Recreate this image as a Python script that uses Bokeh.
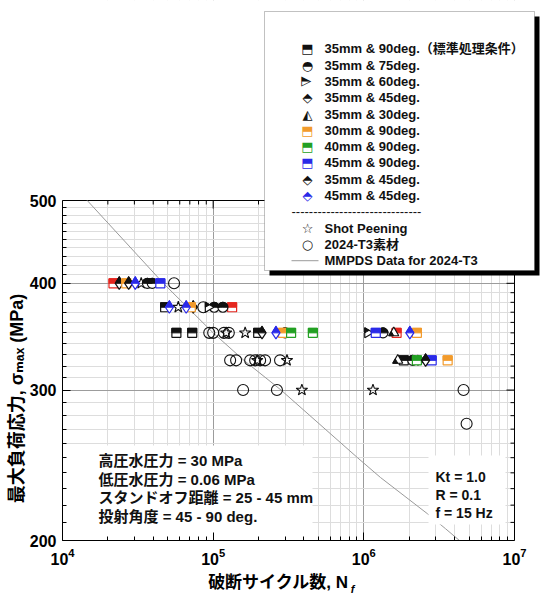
import math
from bokeh.plotting import figure
from bokeh.models import (FixedTicker, LogAxis, NumeralTickFormatter, Label,
                          BoxAnnotation, Range1d, CustomJSTickFormatter)
from bokeh.embed import file_html
from bokeh.resources import INLINE

# ---------------- data ----------------
x_major = [1e4, 1e5, 1e6, 1e7]
x_minor = [m * 10 ** e for e in (4, 5, 6) for m in range(2, 10)]
y_major = [200, 300, 400, 500]
y_minor = [v for v in range(210, 500, 10) if v % 100 != 0]

# 35mm & 90deg (standard condition) - black
std_N = [48.0e3, 57.0e3, 72.6e3, 199e3, 1.84e6]
std_S = [375, 350, 350, 350, 325]
# standard condition points drawn in red
red_N = [21.8e3, 133.6e3, 1.65e6]
red_S = [400, 375, 350]
# 35mm & 75deg
d75_N = [36.6e3, 39.4e3, 101.6e3, 116e3, 300e3, 1.34e6, 2.11e6]
d75_S = [400, 400, 375, 375, 350, 350, 325]
# 35mm & 60deg
d60_N = [92.7e3, 1.06e6, 2.38e6]
d60_S = [375, 350, 325]
# 35mm & 45deg
d45a_N = [23.8e3, 73.7e3, 211e3]
d45a_S = [400, 375, 350]
# 35mm & 30deg
d30_N = [1.58e6, 1.68e6]
d30_S = [350, 325]
# 30mm & 90deg (orange)
o_N = [26.5e3, 71e3, 291e3, 2.25e6, 3.6e6]
o_S = [400, 375, 350, 350, 325]
# 40mm & 90deg (green)
g_N = [329e3, 459e3, 2.25e6]
g_S = [350, 350, 325]
# 45mm & 90deg (blue)
b_N = [44.6e3, 1.2e6, 2.82e6]
b_S = [400, 350, 325]
# 35mm & 45deg (second set)
d45b_N = [27.5e3, 2.57e6]
d45b_S = [400, 325]
# 45mm & 45deg (blue diamonds)
bd_N = [30.4e3, 51.2e3, 66.2e3, 261e3, 2.02e6]
bd_S = [400, 375, 375, 350, 350]
# Shot peening
sp_N = [33.3e3, 58.7e3, 122e3, 163e3, 196e3, 309e3, 388e3, 1.15e6]
sp_S = [400, 375, 350, 350, 325, 325, 300, 300]
# 2024-T3 base material
bm_N = [55e3, 86e3, 94.2e3, 100e3, 118e3, 127e3, 129.6e3, 142e3, 176e3, 190e3,
        205e3, 221e3, 278e3, 158e3, 265e3, 4.59e6, 4.81e6]
bm_S = [400, 375, 350, 350, 350, 350, 325, 325, 325, 325,
        325, 325, 325, 300, 300, 300, 274]
# MMPDS curve for 2024-T3
mm_N = [14.6e3, 46.7e3, 100e3, 160e3, 282e3, 908e3, 1.29e6, 2.64e6, 3.48e6, 4.31e6]
mm_S = [500, 400, 350, 325, 300, 250, 237, 215, 206.5, 200]

legend_labels = ["35mm & 90deg.（標準処理条件）", "35mm & 75deg.", "35mm & 60deg.",
                 "35mm & 45deg.", "35mm & 30deg.", "30mm & 90deg.", "40mm & 90deg.",
                 "45mm & 90deg.", "35mm & 45deg.", "45mm & 45deg.",
                 "Shot Peening", "2024-T3素材", "MMPDS Data for 2024-T3"]
cond_left = ["高圧水圧力 = 30 MPa", "低圧水圧力 = 0.06 MPa",
             "スタンドオフ距離 = 25 - 45 mm", "投射角度 = 45 - 90 deg."]
cond_right = ["Kt = 1.0", "R = 0.1", "f = 15 Hz"]
y_title = "最大負荷応力, σₘₐₓ (MPa)"
x_title = "破断サイクル数, N"
x_title_sub = "f"

# ---------------- style / layout ----------------
BLACK = "#111111"
RED = "#E5261F"
ORANGE = "#F29B2C"
GREEN = "#23A023"
BLUE = "#2A2AE8"
GRAY = "#9A9A9A"
FONT = "Liberation Sans, Noto Sans CJK JP, DejaVu Sans"

W, H = 541, 604
FL, FB = 62, 540            # frame left / bottom (canvas px)
AX_R, AX_T = 514, 200        # where the axes box ends on the right / top
X_DEC = (AX_R - FL) / math.log10(x_major[-1] / x_major[0])
Y_DEC = (FB - AX_T) / math.log10(y_major[-1] / y_major[0])

def n_at(X):
    return x_major[0] * 10 ** ((X - FL) / X_DEC)

def s_at(Y):
    return y_major[0] * 10 ** ((FB - Y) / Y_DEC)

p = figure(width=W, height=H, x_axis_type="log", y_axis_type="log",
           x_range=Range1d(x_major[0], n_at(W)), y_range=Range1d(y_major[0], s_at(0)),
           output_backend="svg", toolbar_location=None, title=None,
           min_border_left=FL, min_border_right=0,
           min_border_top=0, min_border_bottom=H - FB)
p.outline_line_color = None
p.background_fill_color = "white"
p.border_fill_color = "white"

xt = FixedTicker(ticks=x_major, minor_ticks=x_minor)
yt = FixedTicker(ticks=y_major, minor_ticks=y_minor)

def style_axis(ax):
    ax.axis_line_color = "black"
    ax.axis_line_width = 1
    ax.major_tick_in = 8
    ax.major_tick_out = 0
    ax.minor_tick_in = 4
    ax.minor_tick_out = 0
    ax.major_tick_line_color = "black"
    ax.minor_tick_line_color = "black"
    ax.major_label_text_font = "Liberation Sans"
    ax.major_label_text_font_style = "bold"
    ax.major_label_text_font_size = "16px"
    ax.major_label_text_color = "black"
    ax.major_label_standoff = 7

xa = p.below[0]
ya = p.left[0]
xa.ticker = xt
ya.ticker = yt
p.xgrid.ticker = xt
p.ygrid.ticker = yt
ya.formatter = NumeralTickFormatter(format="0")
style_axis(xa)
style_axis(ya)
ya.major_label_standoff = 6
xa.bounds = (x_major[0], x_major[-1])
ya.bounds = (y_major[0], y_major[-1])

def title_axis(side, tick, text, size, style, standoff, vertical=False):
    ax = LogAxis(ticker=FixedTicker(ticks=[tick]),
                 formatter=CustomJSTickFormatter(code="return label", args=dict(label=text)))
    ax.axis_line_color = None
    ax.major_tick_in = 0
    ax.major_tick_out = 0
    ax.minor_tick_in = 0
    ax.minor_tick_out = 0
    ax.major_label_text_font = FONT
    ax.major_label_text_font_size = size
    ax.major_label_text_font_style = style
    ax.major_label_text_color = "black"
    ax.major_label_standoff = standoff
    if vertical:
        ax.major_label_orientation = "vertical"
    p.add_layout(ax, side)

title_axis("below", n_at(278), x_title, "17px", "bold", 5)
title_axis("below", n_at(352), x_title_sub, "11px", "bold italic", -12)
title_axis("left", s_at(398), y_title, "18px", "bold", 0, vertical=True)

for g in (p.xgrid, p.ygrid):
    g.grid_line_color = "#9c9c9c"
    g.grid_line_width = 1
    g.minor_grid_line_color = "#dddddd"
    g.minor_grid_line_width = 1

# keep grid inside the axes box
p.add_layout(BoxAnnotation(bottom=y_major[-1], fill_color="white", fill_alpha=1,
                           line_color=None, level="underlay"))
p.add_layout(BoxAnnotation(left=x_major[-1], fill_color="white", fill_alpha=1,
                           line_color=None, level="underlay"))

def sy_(vals, px):
    return [v * 10 ** (px / Y_DEC) for v in vals]

def sx_(vals, px):
    return [v * 10 ** (px / X_DEC) for v in vals]

def lx(X):
    return X - FL

def ly(Y):
    return FB - Y

def sbox(l, r, t, b, **kw):
    return BoxAnnotation(left=lx(l), right=lx(r), top=ly(t), bottom=ly(b),
                         left_units="screen", right_units="screen",
                         top_units="screen", bottom_units="screen", fill_alpha=1, **kw)

# white box behind lower-left conditions (hides grid only)
p.add_layout(sbox(FL, 312, 445, FB, fill_color="white", line_color=None, level="underlay"))

# top and right frame lines with inward ticks
x0, x1 = x_major[0], x_major[-1]
y0, y1 = y_major[0], y_major[-1]
p.segment([x1, x0], [y0, y1], [x1, x1], [y1, y1], line_color="black", line_width=1)
ry = y_major[1:-1] + y_minor
rl = [8] * (len(y_major) - 2) + [4] * len(y_minor)
p.segment([x1] * len(ry), ry, [x1 * 10 ** (-l / X_DEC) for l in rl], ry,
          line_color="black", line_width=1)
tx = x_major[1:-1] + x_minor
tl = [8] * (len(x_major) - 2) + [4] * len(x_minor)
p.segment(tx, [y1] * len(tx), tx, [y1 * 10 ** (-l / Y_DEC) for l in tl],
          line_color="black", line_width=1)

# MMPDS curve
p.line(mm_N, mm_S, line_color=GRAY, line_width=1)

# ---------------- markers ----------------
def half_square(N, S, c, s=9):
    p.scatter(N, S, marker="square", size=s, fill_color="white", line_color=c, line_width=1.2)
    p.rect(N, sy_(S, s / 4), width=s, height=s / 2, width_units="screen",
           height_units="screen", fill_color=c, line_color=c, line_width=1)

def half_circle(N, S, c, s=10):
    p.scatter(N, S, marker="circle", size=s, fill_color="white", line_color=c, line_width=1.2)
    p.wedge(N, S, radius=s / 2, start_angle=0, end_angle=math.pi, radius_units="screen",
            fill_color=c, line_color=c, line_width=1)

def half_diamond(N, S, c, s=12):
    p.scatter(N, S, marker="diamond", size=s, fill_color="white", line_color=c, line_width=1.2)
    w = s / 1.5
    p.scatter(N, sy_(S, w * math.sqrt(3) / 6), marker="triangle", size=w,
              fill_color=c, line_color=c, line_width=1)

def half_rtri(N, S, c, s=10):
    p.scatter(N, S, marker="triangle", angle=-math.pi / 2, size=s, fill_color="white",
              line_color=c, line_width=1.2)
    r = s / 2
    a = r * math.sqrt(3) / 3
    s2 = s / 2
    a2 = (s2 / 2) * math.sqrt(3) / 3
    p.scatter(sx_(N, -(a - a2)), sy_(S, s2 / 2), marker="triangle", angle=-math.pi / 2,
              size=s2, fill_color=c, line_color=c, line_width=1)

def half_ltri(N, S, c, s=10):
    p.scatter(N, S, marker="triangle", size=s, fill_color="white", line_color=c, line_width=1.2)
    r = s / 2
    a = r * math.sqrt(3) / 3
    s2 = s / 2
    a2 = (s2 / 2) * math.sqrt(3) / 3
    p.scatter(sx_(N, -r / 2), sy_(S, -(a - a2)), marker="triangle", size=s2,
              fill_color=c, line_color=c, line_width=1)

p.scatter(bm_N, bm_S, marker="circle", size=11, fill_color=None, line_color=BLACK, line_width=1.1)
p.scatter(sp_N, sp_S, marker="star", size=12, fill_color=None, line_color=BLACK, line_width=1.1)
half_square(red_N, red_S, RED)
half_square(std_N, std_S, BLACK)
half_circle(d75_N, d75_S, BLACK)
half_rtri(d60_N, d60_S, BLACK)
half_diamond(d45a_N, d45a_S, BLACK)
half_ltri(d30_N, d30_S, BLACK)
half_square(o_N, o_S, ORANGE)
half_square(g_N, g_S, GREEN)
half_square(b_N, b_S, BLUE)
half_diamond(d45b_N, d45b_S, BLACK)
half_diamond(bd_N, bd_S, BLUE)

# ---------------- condition texts ----------------
p.add_layout(sbox(428, AX_R - 9, 455, 524, fill_color="white", line_color=None))

def lab(X, Y, t, size, style="bold", font=FONT, angle=0.0, align="left", color=BLACK):
    p.add_layout(Label(x=lx(X), y=ly(Y), x_units="screen", y_units="screen", text=t,
                       text_font=font, text_font_size=size, text_font_style=style,
                       text_color=color, text_align=align, text_baseline="middle",
                       angle=angle))

for i, t in enumerate(cond_left):
    lab(98, 460 + 18.5 * i, t, "15px")
for i, t in enumerate(cond_right):
    lab(435, 476 + 18 * i, t, "14px")

# ---------------- legend ----------------
V = math.pi / 2
p.add_layout(sbox(269, 539, 16, 275, fill_color="black", line_color=None))
p.add_layout(sbox(264, 534, 11, 270, fill_color="white", line_color="#333333", line_width=1))

sym = [("⬒", BLACK, 0), ("◓", BLACK, 0), ("◭", BLACK, -V), ("⬘", BLACK, 0), ("◭", BLACK, 0),
       ("⬒", ORANGE, 0), ("⬒", GREEN, 0), ("⬒", BLUE, 0), ("⬘", BLACK, 0), ("⬘", BLUE, 0),
       None, ("☆", BLACK, 0), ("○", BLACK, 0)]
ROW0, PITCH = 48.3, 16.3
for i in range(13):
    Y = ROW0 + PITCH * i
    if sym[i] is None:
        lab(291, Y, "-" * 30, "13px", style="normal")
        continue
    ch, c, ang = sym[i]
    lab(307, Y, ch, "13px", style="normal", font="DejaVu Sans", angle=ang,
        align="center", color=c)
    lab(324, Y, legend_labels[i if i < 10 else i - 1], "13px")
Ymm = ROW0 + PITCH * 13
p.add_layout(sbox(291, 318, Ymm - 0.5, Ymm + 0.5, fill_color=GRAY, line_color=None))
lab(324, Ymm, legend_labels[12], "13px")

open("out.html", "w").write(file_html(p, INLINE))
